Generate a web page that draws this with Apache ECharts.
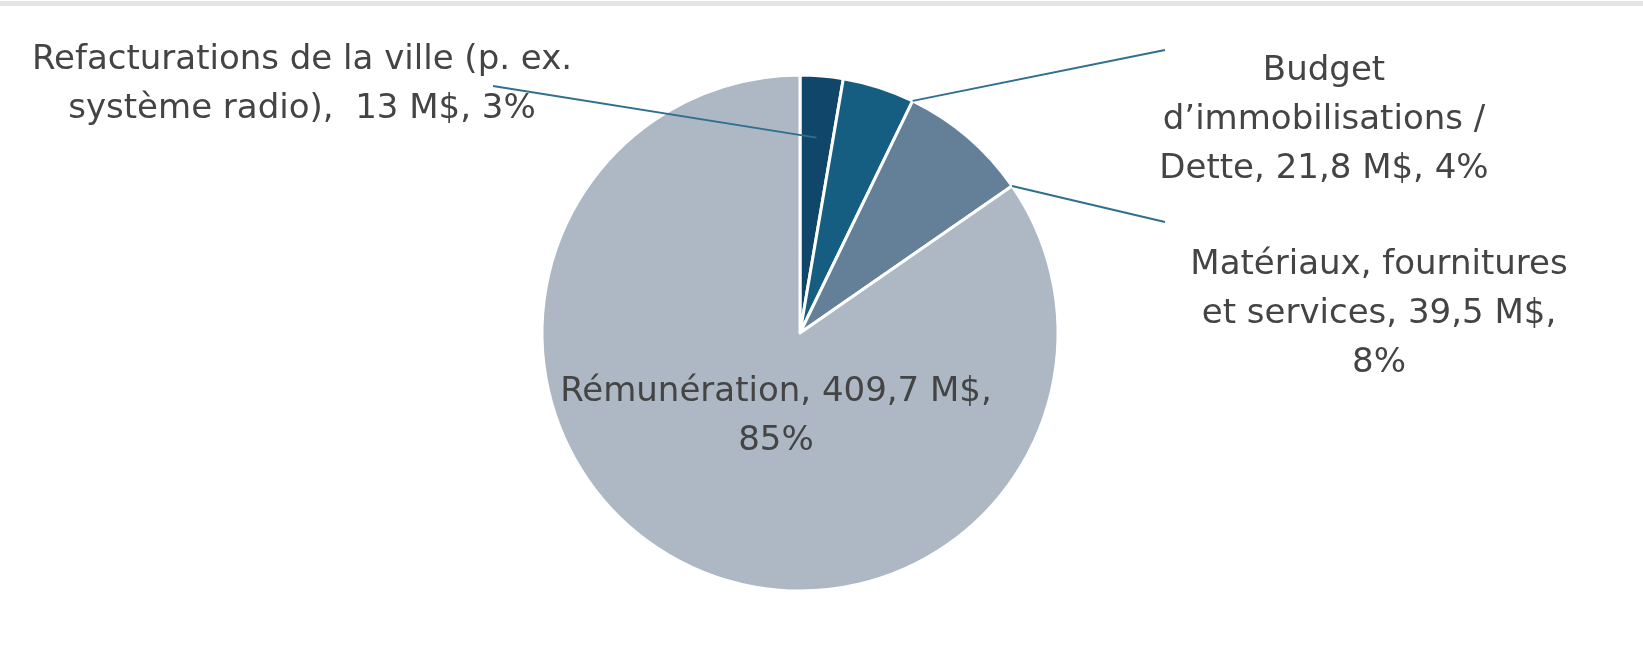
<!DOCTYPE html>
<html><head><meta charset="utf-8">
<script src="https://cdn.jsdelivr.net/npm/echarts@6/dist/echarts.min.js"></script>
<style>html,body{margin:0;padding:0;background:#fff}#c{width:1643px;height:651px}</style>
</head><body><div id="c"></div>
<script>
const categories = ['Refacturations de la ville (p. ex.\nsystème radio)', 'Budget\nd’immobilisations /\nDette', 'Matériaux, fournitures\net services', 'Rémunération'];
const valuesM = [13, 21.8, 39.5, 409.7];
const shownPercents = [3, 4, 8, 85];
const colors = ['#10466a', '#155e82', '#647f98', '#adb8c4'];

const CX = 800, CY = 333, R = 258;
const labelCenters = [[302, 85], [1324, 120], [1379, 314], [776, 417]];
const lineEnds = [[191, 1], [-159, -70], [-214, -92], null];
const anchorAngleFrac = [0.5, 1, 1, 0];
const anchorRadiusFrac = [0.76, 1, 1, 0];
const valueGap = ['  ', ' ', ' ', ' '];
const pctSep = [' ', ' ', '\n', '\n'];

const total = valuesM.reduce((a, b) => a + b, 0);
const startAngles = []; let acc = 90;
valuesM.forEach(v => { startAngles.push(acc); acc -= v / total * 360; });
function fmt(v) { return String(v).replace('.', ','); }

const sliceData = categories.map((name, i) => ({ name, value: valuesM[i], itemStyle: { color: colors[i] } }));
const labelData = categories.map((name, i) => ({
  name, value: valuesM[i],
  label: { position: i === 3 ? 'inside' : 'outside' },
  labelLine: { show: i !== 3 }
}));

const common = { type: 'pie', center: [CX, CY], radius: R, startAngle: 90, clockwise: true, avoidLabelOverlap: false };

const chart = echarts.init(document.getElementById('c'));
chart.setOption({
  animation: false,
  backgroundColor: '#fff',
  graphic: [{ type: 'rect', shape: { x: 0, y: 1, width: 1643, height: 5 }, style: { fill: '#e4e4e4' }, silent: true }],
  series: [
    Object.assign({}, common, {
      z: 2,
      itemStyle: { borderColor: '#fff', borderWidth: 3 },
      label: { show: false }, labelLine: { show: false },
      data: sliceData
    }),
    Object.assign({}, common, {
      z: 3, silent: true,
      itemStyle: { color: 'rgba(0,0,0,0)', borderWidth: 0 },
      label: {
        formatter: p => `${p.name},${valueGap[p.dataIndex]}${fmt(p.value)} M$,${pctSep[p.dataIndex]}${shownPercents[p.dataIndex]}%`,
        fontFamily: 'DejaVu Sans', fontSize: 34, lineHeight: 49, color: '#444', align: 'center'
      },
      labelLine: { lineStyle: { color: '#2f6f8f', width: 2 } },
      labelLayout: function (params) {
        const i = params.dataIndex;
        const lx = labelCenters[i][0], ly = labelCenters[i][1];
        const res = { x: lx, y: ly, align: 'center', verticalAlign: 'middle' };
        if (lineEnds[i]) {
          const span = valuesM[i] / total * 360;
          const a = (startAngles[i] - span * anchorAngleFrac[i]) * Math.PI / 180;
          const r = R * anchorRadiusFrac[i];
          res.labelLinePoints = [[CX + r * Math.cos(a), CY - r * Math.sin(a)], [lx + lineEnds[i][0], ly + lineEnds[i][1]]];
        }
        return res;
      },
      data: labelData
    })
  ]
});
</script></body></html>
